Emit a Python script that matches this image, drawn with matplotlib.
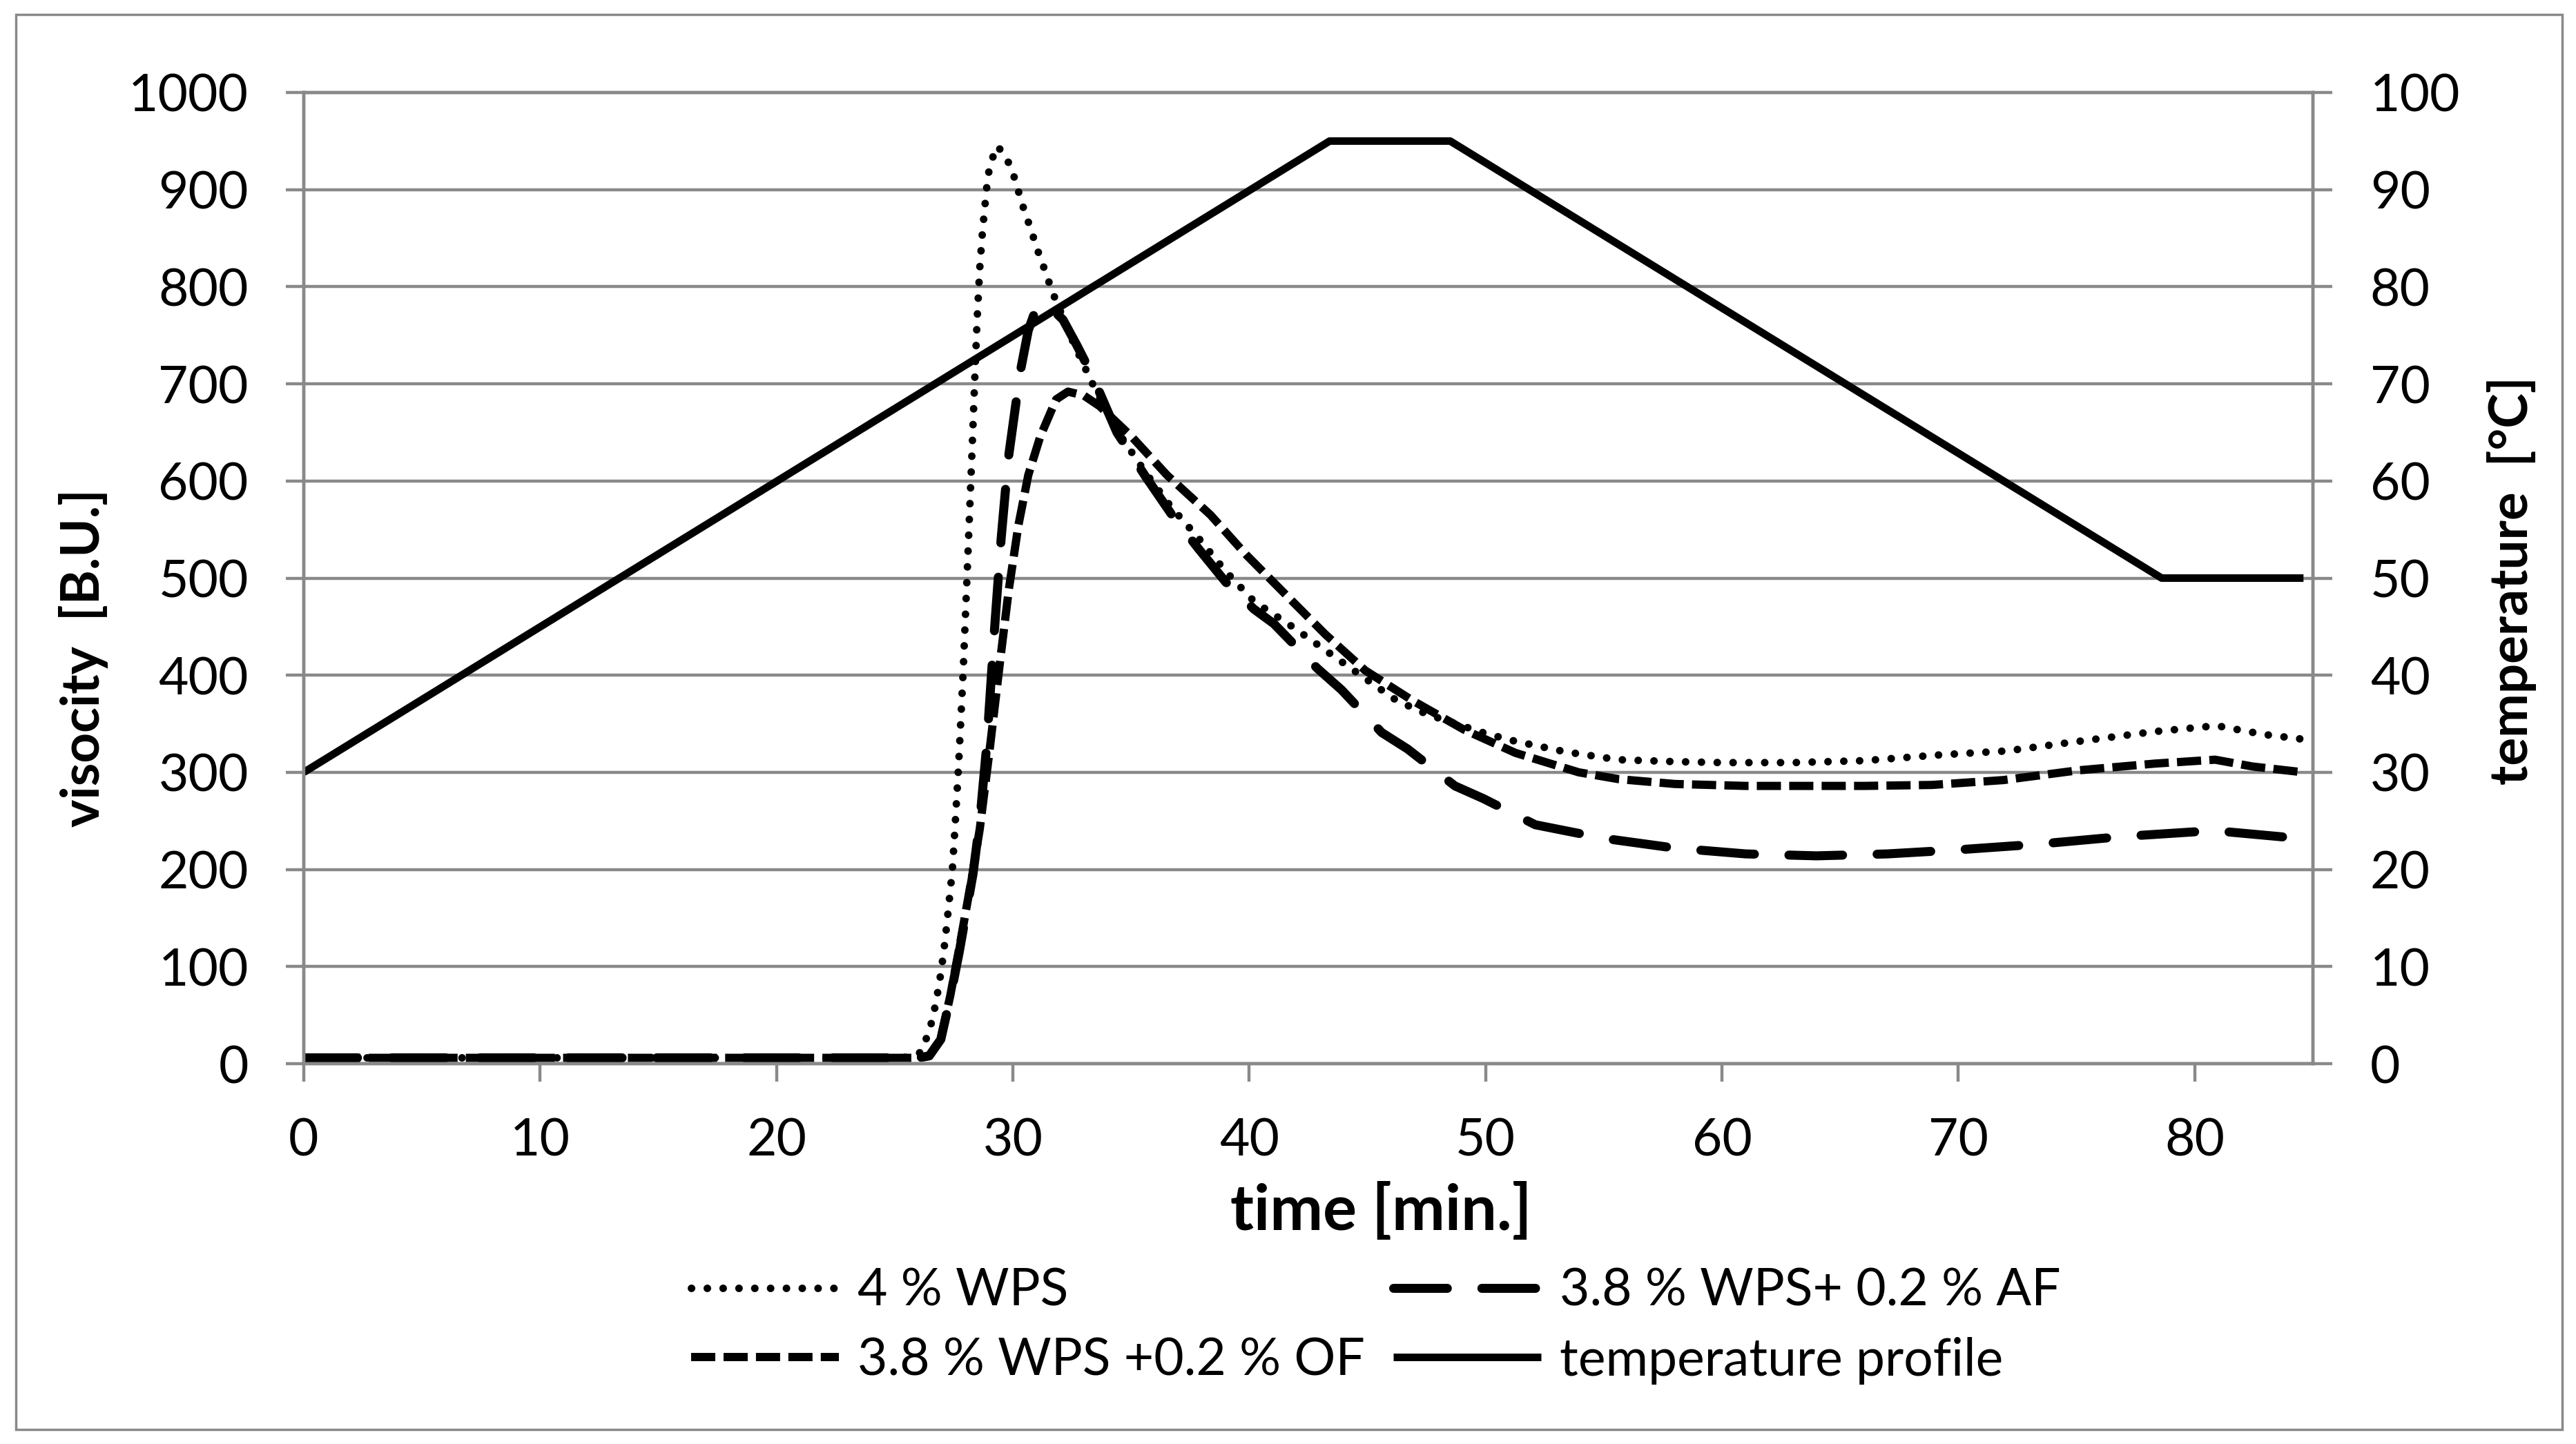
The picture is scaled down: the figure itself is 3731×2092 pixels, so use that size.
import matplotlib
matplotlib.use('Agg')
import matplotlib.pyplot as plt
from matplotlib.patches import Rectangle

plt.rcParams['font.family'] = ['Lato', 'DejaVu Sans']
plt.rcParams['lines.scale_dashes'] = False

# --- data ---
x_ticks = [0, 10, 20, 30, 40, 50, 60, 70, 80]
visc_ticks = [0, 100, 200, 300, 400, 500, 600, 700, 800, 900, 1000]
temp_ticks = [0, 10, 20, 30, 40, 50, 60, 70, 80, 90, 100]

# 4 % WPS
wps_t = [0, 10, 20, 25, 25.8, 26.1, 26.31, 26.54, 26.71, 26.83, 26.95, 27.05, 27.14,
         27.29, 27.44, 27.53, 27.7, 27.9, 28.1, 28.29, 28.4, 28.49, 28.6, 28.71, 28.85,
         28.92, 29.04, 29.35, 29.76, 30.04, 30.25, 30.46, 30.69, 30.92, 31.15, 31.4,
         31.63, 31.9, 32.6, 33.35, 34.4, 35.6, 36.7, 37.86, 39.0, 40.2, 41.88, 43.55,
         45.0, 46.23, 47.5, 48.74, 50.0, 51.25, 53.4, 55.6, 58, 60, 63, 66, 69.25,
         72.03, 75.12, 78.32, 80.92, 82.92, 84.6]
wps_v = [6, 6, 6, 6, 7, 12, 24, 41, 59, 75, 93, 111, 129,
         164, 200, 235, 306, 406, 526, 643, 714, 768, 820, 856, 892,
         909, 927, 945, 931, 914, 897, 880, 864, 847, 830, 814,
         797, 781, 740, 701, 652, 609, 573, 541, 507, 476, 449, 420,
         395, 374, 360, 350, 340, 332, 321, 313, 311, 310, 310, 312, 318,
         322, 332, 342, 348, 339, 334]

# 3.8 % WPS + 0.2 % OF
of_t = [0, 10, 20, 25, 26.0, 26.46, 26.95, 27.35, 27.73, 28.31, 28.6, 29.0, 29.48,
        29.82, 30.23, 30.65, 31.16, 31.83, 32.33, 33.0, 33.67, 35.01, 36.52, 38.36,
        39.87, 41.54, 43.22, 44.9, 46.9, 49.08, 51.26, 53.94, 55.62, 58, 61, 64, 66,
        68.88, 71.9, 75.05, 78.32, 80.86, 82.44, 84.6]
of_v = [6, 6, 6, 6, 6, 8, 26, 70, 119, 198, 242, 320, 419,
        487, 554, 606, 646, 684, 692, 688, 677, 646, 606, 565,
        524, 483, 442, 405, 374, 344, 320, 300, 293, 288, 286, 286, 286,
        287, 292, 302, 309, 313, 306, 300]

# 3.8 % WPS + 0.2 % AF
af_t = [0, 10, 20, 25, 26.0, 26.46, 26.95, 27.35, 27.73, 28.31, 28.6, 28.9, 29.2,
        29.5, 29.8, 30.15, 30.34, 30.65, 31.0, 31.35, 31.7, 32.12, 32.7, 33.35, 34.4,
        35.6, 36.7, 37.86, 39.0, 40.2, 41.04, 42.88, 43.9, 45.6, 46.7, 48.7, 49.9,
        52.1, 55, 58, 61, 64, 67, 69.85, 73.36, 76.99, 80.8, 83.95, 84.6]
af_v = [6, 6, 6, 6, 6, 8, 25, 68, 115, 195, 250, 330, 440,
        540, 622, 684, 716, 755, 779, 782, 776, 766, 740, 709, 650,
        605, 566, 530, 496, 468, 453, 407, 385, 341, 324, 286, 273,
        246, 232, 222, 216, 214, 216, 220, 226, 234, 240, 233, 231]

# temperature profile
temp_t = [0, 43.4, 48.5, 78.6, 84.6]
temp_v = [30, 95, 95, 50, 50]

labels = ['4 % WPS', '3.8 % WPS +0.2 % OF', '3.8 % WPS+ 0.2 % AF', 'temperature profile']

# --- layout (pixel geometry of the reference) ---
W, H = 3731, 2092
gray = '#898989'

fig = plt.figure(figsize=(W / 100, H / 100), dpi=100, facecolor='white')
ax = fig.add_axes([440 / W, 1 - 1541 / H, 2910 / W, 1407 / H])
ax2 = ax.twinx()

l_wps, = ax.plot(wps_t, wps_v, color='black', lw=7.9,
                 linestyle=(0, (0.1, 16.4)), dash_capstyle='round')
l_of, = ax.plot(of_t, of_v, color='black', lw=8.6,
                linestyle=(0, (25.2, 8.6)), dash_capstyle='butt')
l_af, = ax.plot(af_t, af_v, color='black', lw=9.4,
                linestyle=(0, (56, 36)), dash_capstyle='round')
l_temp, = ax2.plot(temp_t, temp_v, color='black', lw=7.9, solid_capstyle='butt')

ax.set_xlim(0, 85)
ax.set_ylim(0, 1000)
ax2.set_ylim(0, 100)
ax.set_xticks(x_ticks)
ax.set_yticks(visc_ticks)
ax2.set_yticks(temp_ticks)

ax.yaxis.grid(True, color=gray, lw=3.2)
ax.set_axisbelow(True)

for a in (ax, ax2):
    for s in a.spines.values():
        s.set_color(gray)
        s.set_linewidth(3.2)

ax.tick_params(axis='y', direction='out', length=18.7, width=3.2, color=gray,
               pad=39, labelsize=54)
ax.tick_params(axis='x', direction='out', length=18.7, width=3.2, color=gray,
               pad=37, labelsize=54)
ax2.tick_params(axis='y', direction='out', length=20, width=3.2, color=gray,
                pad=39.6, labelsize=54)

fig.text(121 / W, 1 - 953 / H, 'visocity  [B.U.]', rotation=90, ha='center',
         va='center', fontsize=55, fontweight='bold')
fig.text(3638 / W, 1 - 841 / H, 'temperature  [°C]', rotation=90, ha='center',
         va='center', fontsize=55, fontweight='bold')
fig.text(2000 / W, 1 - 1755 / H, 'time [min.]', ha='center', va='center',
         fontsize=66, fontweight='bold')

fig.legend([l_wps, l_of, l_af, l_temp], labels, ncol=2, loc='upper left',
           bbox_to_anchor=(1001 / W, 1 - 1836 / H), bbox_transform=fig.transFigure,
           frameon=False, borderpad=0, borderaxespad=0, fontsize=54,
           handlelength=2.85, handletextpad=0.36, columnspacing=0.55,
           labelspacing=0.42)

fig.patches.append(Rectangle((23 / W, 1 - 2071 / H), (3711 - 23) / W, (2071 - 21) / H,
                             transform=fig.transFigure, fill=False, ec=gray, lw=2.5))

fig.savefig('out.png', dpi=100, facecolor='white')
